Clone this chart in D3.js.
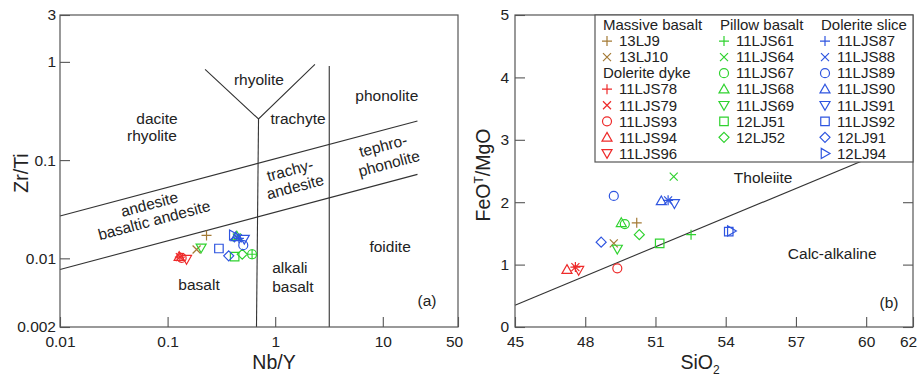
<!DOCTYPE html>
<html>
<head>
<meta charset="utf-8">
<script src="https://cdn.jsdelivr.net/npm/d3@7"></script>
<style>
  body { margin: 0; background: #fff; }
  text { font-family: "Liberation Sans", Arial, sans-serif; fill: #222; }
</style>
</head>
<body>
<script>
// samples, groups and symbols
var groupNames = ["Massive basalt", "Dolerite dyke", "Pillow basalt", "Dolerite slice"];
var groupColors = ["#a47a35", "#ee2a2a", "#2fd22f", "#2f55e0"];

var sampleNames = ["13LJ9", "13LJ10",
  "11LJS78", "11LJS79", "11LJS93", "11LJS94", "11LJS96",
  "11LJS61", "11LJS64", "11LJS67", "11LJS68", "11LJS69", "12LJ51", "12LJ52",
  "11LJS87", "11LJS88", "11LJS89", "11LJS90", "11LJS91", "11LJS92", "12LJ91", "12LJ94"];
var sampleGroup = [0, 0, 1, 1, 1, 1, 1, 2, 2, 2, 2, 2, 2, 2, 3, 3, 3, 3, 3, 3, 3, 3];
var sampleSymbol = ["plus", "cross",
  "plus", "cross", "circle", "up", "down",
  "plus", "cross", "circle", "up", "down", "square", "diamond",
  "plus", "cross", "circle", "up", "down", "square", "diamond", "right"];

// (a) Nb/Y vs Zr/Ti
var nbY = [0.23, 0.186,
  0.13, 0.13, 0.135, 0.128, 0.15,
  0.61, 0.44, 0.61, 0.44, 0.205, 0.42, 0.494,
  0.46, 0.45, 0.505, 0.43, 0.516, 0.30, 0.37, 0.408];
var zrTi = [0.0171, 0.0123,
  0.0103, 0.0103, 0.0101, 0.0104, 0.0098,
  0.011, 0.0163, 0.011, 0.0168, 0.0128, 0.0104, 0.011,
  0.016, 0.016, 0.0136, 0.0165, 0.0157, 0.0126, 0.0106, 0.0173];

// (b) SiO2 vs FeOT/MgO
var sio2 = [50.20, 49.22,
  47.58, 47.58, 49.37, 47.22, 47.72,
  52.52, 51.78, 49.69, 49.54, 49.37, 51.18, 50.31,
  51.54, 51.54, 49.22, 51.25, 51.81, 54.13, 48.68, 54.24];
var feoMgo = [1.67, 1.34,
  0.96, 0.96, 0.94, 0.92, 0.91,
  1.48, 2.41, 1.65, 1.67, 1.25, 1.34, 1.48,
  2.03, 2.03, 2.10, 2.02, 1.98, 1.53, 1.36, 1.54];

// axis ticks
var ticksNbY = [0.01, 0.1, 1, 10, 50];
var ticksZrTi = [0.002, 0.01, 0.1, 1, 3];
var ticksSiO2 = [45, 48, 51, 54, 57, 60, 62];
var ticksFeo = [0, 1, 2, 3, 4, 5];

// field boundaries (Winchester & Floyd) in data units
var fieldLines = [
  [[0.01, 0.027], [21, 0.25]],
  [[0.01, 0.0077], [21, 0.0716]],
  [[0.67, 0.002], [0.70, 0.262]],
  [[0.223, 0.84], [0.70, 0.262], [2.34, 0.944]],
  [[3.18, 0.002], [3.18, 0.91]]
];
var fieldLabels = [
  { t: "rhyolite", x: 0.706, y: 0.668 },
  { t: "dacite", x: 0.0797, y: 0.262 },
  { t: "rhyolite", x: 0.0716, y: 0.176 },
  { t: "trachyte", x: 1.63, y: 0.262 },
  { t: "phonolite", x: 10.9, y: 0.449 },
  { t: "foidite", x: 11.7, y: 0.0133 },
  { t: "basalt", x: 0.196, y: 0.00547 },
  { t: "alkali", x: 1.37, y: 0.00814 },
  { t: "basalt", x: 1.46, y: 0.00521 }
];
var slantLabels = [
  { t: "tephro-", x: 10.05, y: 0.140 },
  { t: "phonolite", x: 11.4, y: 0.0927 },
  { t: "trachy-", x: 1.37, y: 0.0792 },
  { t: "andesite", x: 1.53, y: 0.0536 },
  { t: "andesite", x: 0.0676, y: 0.0356 },
  { t: "basaltic andesite", x: 0.0748, y: 0.0245 }
];
// Miyashiro boundary
var thLine = [[45, 0.35], [62, 3.0]];

var svg = d3.select("body").append("svg")
  .attr("width", 917)
  .attr("height", 379);

function glyph(type, s) {
  var p = d3.path();
  if (type === "plus") { p.moveTo(-s, 0); p.lineTo(s, 0); p.moveTo(0, -s); p.lineTo(0, s); }
  else if (type === "cross") { var k = s * 0.8; p.moveTo(-k, -k); p.lineTo(k, k); p.moveTo(-k, k); p.lineTo(k, -k); }
  else if (type === "circle") { p.moveTo(s * 0.9, 0); p.arc(0, 0, s * 0.9, 0, 2 * Math.PI); }
  else if (type === "up") { p.moveTo(0, -s); p.lineTo(s, s * 0.75); p.lineTo(-s, s * 0.75); p.closePath(); }
  else if (type === "down") { p.moveTo(0, s); p.lineTo(s, -s * 0.75); p.lineTo(-s, -s * 0.75); p.closePath(); }
  else if (type === "right") { p.moveTo(s, 0); p.lineTo(-s * 0.75, s); p.lineTo(-s * 0.75, -s); p.closePath(); }
  else if (type === "square") { var q = s * 0.85; p.rect(-q, -q, 2 * q, 2 * q); }
  else if (type === "diamond") { p.moveTo(0, -s); p.lineTo(s, 0); p.lineTo(0, s); p.lineTo(-s, 0); p.closePath(); }
  return p.toString();
}

function styleAxis(g) {
  g.select(".domain").remove();
  g.selectAll(".tick line").attr("stroke", "#555").attr("stroke-width", 1.1);
  g.selectAll(".tick text").style("font-size", "15.5px").attr("fill", "#222");
}

var idx = d3.range(sampleNames.length);

// ---------- panel (a) ----------
var A = { left: 60, right: 458, top: 15, bottom: 327 };
var xa = d3.scaleLog().domain([0.01, 50]).range([A.left, A.right]);
var ya = d3.scaleLog().domain([0.002, 3]).range([A.bottom, A.top]);
var ga = svg.append("g");

var lineA = d3.line().x(function (d) { return xa(d[0]); }).y(function (d) { return ya(d[1]); });
ga.selectAll("path.field").data(fieldLines).enter().append("path")
  .attr("class", "field")
  .attr("d", lineA)
  .attr("fill", "none")
  .attr("stroke", "#333")
  .attr("stroke-width", 1.1);

ga.append("g")
  .attr("transform", "translate(0," + A.bottom + ")")
  .call(d3.axisBottom(xa).tickValues(ticksNbY).tickSize(-10).tickPadding(9).tickFormat(function (d) { return String(d); }))
  .call(styleAxis)
  .call(function (g) { g.selectAll(".tick text").filter(function (d) { return d === 50; }).attr("dx", -4); });
ga.append("g")
  .attr("transform", "translate(" + A.left + ",0)")
  .call(d3.axisLeft(ya).tickValues(ticksZrTi).tickSize(-10).tickPadding(4).tickFormat(function (d) { return String(d); }))
  .call(styleAxis);

ga.append("rect")
  .attr("x", A.left).attr("y", A.top)
  .attr("width", A.right - A.left).attr("height", A.bottom - A.top)
  .attr("fill", "none").attr("stroke", "#555").attr("stroke-width", 1.2);

ga.selectAll("text.flab").data(fieldLabels).enter().append("text")
  .attr("class", "flab")
  .attr("x", function (d) { return xa(d.x); })
  .attr("y", function (d) { return ya(d.y); })
  .attr("dy", "0.35em")
  .style("text-anchor", "middle")
  .style("font-size", "15.5px")
  .text(function (d) { return d.t; });

var ang = Math.atan2(ya(0.25) - ya(0.027), xa(21) - xa(0.01)) * 180 / Math.PI;
ga.selectAll("text.slab").data(slantLabels).enter().append("text")
  .attr("class", "slab")
  .attr("transform", function (d) { return "translate(" + xa(d.x) + "," + ya(d.y) + ") rotate(" + ang + ")"; })
  .attr("dy", "0.35em")
  .style("text-anchor", "middle")
  .style("font-size", "15.5px")
  .text(function (d) { return d.t; });

ga.append("text")
  .attr("x", A.right - 31).attr("y", A.bottom - 26)
  .attr("dy", "0.35em")
  .style("text-anchor", "middle")
  .style("font-size", "15.5px")
  .text("(a)");

ga.append("text")
  .attr("x", (A.left + A.right) / 2 + 15).attr("y", 369)
  .style("text-anchor", "middle")
  .style("font-size", "19.5px")
  .text("Nb/Y");
ga.append("text")
  .attr("transform", "translate(28,173) rotate(-90)")
  .style("text-anchor", "middle")
  .style("font-size", "19.5px")
  .text("Zr/Ti");

ga.selectAll("path.pt").data(idx).enter().append("path")
  .attr("class", "pt")
  .attr("transform", function (i) { return "translate(" + xa(nbY[i]) + "," + ya(zrTi[i]) + ")"; })
  .attr("d", function (i) { return glyph(sampleSymbol[i], 5); })
  .attr("fill", "none")
  .attr("stroke", function (i) { return groupColors[sampleGroup[i]]; })
  .attr("stroke-width", 1.2);

// ---------- panel (b) ----------
var B = { left: 515, right: 913, top: 15, bottom: 327 };
var xb = d3.scaleLinear().domain([45, 62]).range([B.left, B.right]);
var yb = d3.scaleLinear().domain([0, 5]).range([B.bottom, B.top]);
var gb = svg.append("g");

gb.append("path")
  .datum(thLine)
  .attr("d", d3.line().x(function (d) { return xb(d[0]); }).y(function (d) { return yb(d[1]); }))
  .attr("fill", "none")
  .attr("stroke", "#333")
  .attr("stroke-width", 1.1);

gb.append("g")
  .attr("transform", "translate(0," + B.bottom + ")")
  .call(d3.axisBottom(xb).tickValues(ticksSiO2).tickSize(-10).tickPadding(9).tickFormat(d3.format("d")))
  .call(styleAxis)
  .call(function (g) { g.selectAll(".tick text").filter(function (d) { return d === 62; }).attr("dx", -5); });
gb.append("g")
  .attr("transform", "translate(" + B.left + ",0)")
  .call(d3.axisLeft(yb).tickValues(ticksFeo).tickSize(-10).tickPadding(6).tickFormat(d3.format("d")))
  .call(styleAxis);
gb.append("g")
  .attr("transform", "translate(" + B.right + ",0)")
  .call(d3.axisRight(yb).tickValues(ticksFeo).tickSize(-10).tickFormat(""))
  .call(styleAxis);

gb.append("rect")
  .attr("x", B.left).attr("y", B.top)
  .attr("width", B.right - B.left).attr("height", B.bottom - B.top)
  .attr("fill", "none").attr("stroke", "#555").attr("stroke-width", 1.2);

gb.append("text")
  .attr("x", xb(55.6)).attr("y", yb(2.39)).attr("dy", "0.35em")
  .style("text-anchor", "middle").style("font-size", "15.5px")
  .text("Tholeiite");
gb.append("text")
  .attr("x", xb(58.55)).attr("y", yb(1.18)).attr("dy", "0.35em")
  .style("text-anchor", "middle").style("font-size", "15.5px")
  .text("Calc-alkaline");
gb.append("text")
  .attr("x", B.right - 24).attr("y", B.bottom - 24).attr("dy", "0.35em")
  .style("text-anchor", "middle").style("font-size", "15.5px")
  .text("(b)");

var sx = gb.append("text")
  .attr("x", (B.left + B.right) / 2 - 14).attr("y", 369)
  .style("text-anchor", "middle")
  .style("font-size", "19.5px");
sx.append("tspan").text("SiO");
sx.append("tspan").attr("dy", 5).style("font-size", "12px").text("2");

var sy = gb.append("text")
  .attr("transform", "translate(490,175) rotate(-90)")
  .style("text-anchor", "middle")
  .style("font-size", "19.5px");
sy.append("tspan").text("FeO");
sy.append("tspan").attr("dy", -7).style("font-size", "12px").text("T");
sy.append("tspan").attr("dy", 7).text("/MgO");

gb.selectAll("path.pt").data(idx).enter().append("path")
  .attr("class", "pt")
  .attr("transform", function (i) { return "translate(" + xb(sio2[i]) + "," + yb(feoMgo[i]) + ")"; })
  .attr("d", function (i) { return glyph(sampleSymbol[i], 5); })
  .attr("fill", "none")
  .attr("stroke", function (i) { return groupColors[sampleGroup[i]]; })
  .attr("stroke-width", 1.2);

// ---------- legend ----------
var leg = gb.append("g");
leg.append("rect")
  .attr("x", 595).attr("y", B.top)
  .attr("width", B.right - 595).attr("height", 147)
  .attr("fill", "#fff").attr("stroke", "#555").attr("stroke-width", 1.2);

var colX = [603, 720, 821];
var rowY = function (r) { return 25 + r * 16.05; };
// column / row placement of each header and sample
var headerPos = [[0, 0], [0, 3], [1, 0], [2, 0]];
var legendRows = [];
groupNames.forEach(function (name, gi) {
  var c = headerPos[gi][0], r = headerPos[gi][1];
  leg.append("text")
    .attr("x", colX[c]).attr("y", rowY(r)).attr("dy", "0.35em")
    .style("font-size", "15px")
    .text(name);
  idx.filter(function (i) { return sampleGroup[i] === gi; }).forEach(function (i, k) {
    legendRows.push({ i: i, c: c, r: r + 1 + k });
  });
});
leg.selectAll("path.lg").data(legendRows).enter().append("path")
  .attr("class", "lg")
  .attr("transform", function (d) { return "translate(" + (colX[d.c] + 4) + "," + rowY(d.r) + ")"; })
  .attr("d", function (d) { return glyph(sampleSymbol[d.i], 5); })
  .attr("fill", "none")
  .attr("stroke", function (d) { return groupColors[sampleGroup[d.i]]; })
  .attr("stroke-width", 1.2);
leg.selectAll("text.lg").data(legendRows).enter().append("text")
  .attr("class", "lg")
  .attr("x", function (d) { return colX[d.c] + 16; })
  .attr("y", function (d) { return rowY(d.r); })
  .attr("dy", "0.35em")
  .style("font-size", "15px")
  .text(function (d) { return sampleNames[d.i]; });
</script>
</body>
</html>
